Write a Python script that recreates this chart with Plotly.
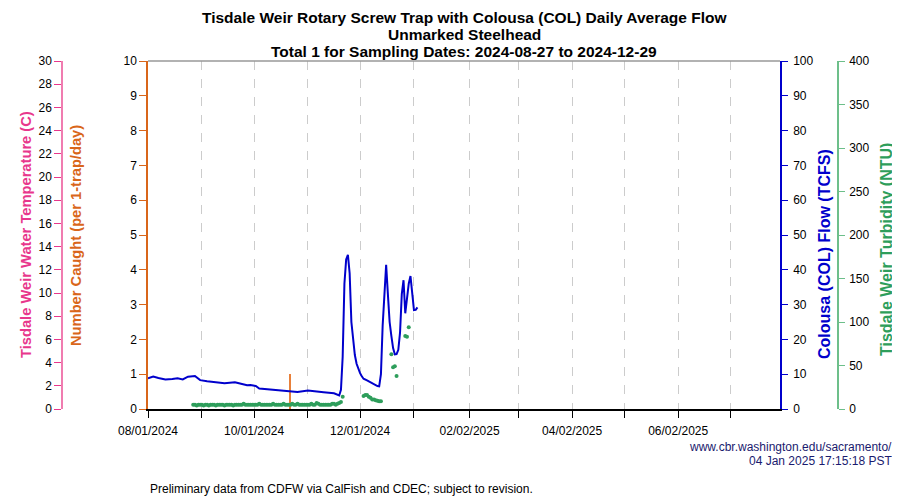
import pandas as pd
import plotly.graph_objects as go

# Colousa (COL) daily average flow, TCFS
flow_dates = ['2024-08-01', '2024-08-04', '2024-08-07', '2024-08-11', '2024-08-15', '2024-08-18',
              '2024-08-21', '2024-08-24', '2024-08-28', '2024-08-31', '2024-09-04', '2024-09-09',
              '2024-09-14', '2024-09-20', '2024-09-24', '2024-09-27', '2024-09-29', '2024-10-02',
              '2024-10-04', '2024-10-08', '2024-10-14', '2024-10-20', '2024-10-26', '2024-11-01',
              '2024-11-04', '2024-11-10', '2024-11-16', '2024-11-19', '2024-11-20', '2024-11-21',
              '2024-11-22', '2024-11-23', '2024-11-24', '2024-11-25', '2024-11-26', '2024-11-27',
              '2024-11-28', '2024-11-29', '2024-11-30', '2024-12-01', '2024-12-02', '2024-12-03',
              '2024-12-05', '2024-12-07', '2024-12-09', '2024-12-11', '2024-12-12', '2024-12-13',
              '2024-12-14', '2024-12-15', '2024-12-16', '2024-12-17', '2024-12-18', '2024-12-19',
              '2024-12-20', '2024-12-21', '2024-12-22', '2024-12-23', '2024-12-24', '2024-12-25',
              '2024-12-26', '2024-12-27', '2024-12-28', '2024-12-29', '2024-12-30', '2024-12-31',
              '2025-01-01', '2025-01-02', '2025-01-03']
flow_vals = [8.8, 9.3, 8.9, 8.5, 8.6, 8.8,
             8.5, 9.3, 9.5, 8.3, 8.0, 7.8,
             7.4, 7.7, 7.2, 6.8, 6.9, 6.6,
             5.9, 5.7, 5.4, 5.2, 4.9, 5.3,
             5.2, 4.8, 4.5, 3.9, 5.5, 15,
             36, 43, 44.3, 39, 25, 20,
             15.5, 13, 11.3, 10.3, 9.4, 8.7,
             8.2, 7.6, 7.1, 6.6, 6.5, 10,
             24, 34, 41.4, 33, 25, 21,
             17.5, 15.7, 15.8, 17, 22, 33,
             37, 27.5, 32, 36, 38.2, 32.5,
             28.4, 28.5, 29.2]

# Tisdale Weir turbidity, NTU
turb_dates = (list(pd.date_range('2024-08-27', '2024-11-21'))
              + list(pd.date_range('2024-12-03', '2024-12-13'))
              + list(pd.to_datetime(['2024-12-19', '2024-12-20', '2024-12-21', '2024-12-22',
                                     '2024-12-27', '2024-12-28', '2024-12-29'])))
turb_vals = [5, 5, 4, 5, 5,
             5, 4, 5, 5, 4, 5, 5, 5, 4, 5, 5, 5, 5, 4, 5, 5, 5, 5, 4, 5, 5, 5, 5, 5, 6, 5, 5, 5, 5, 5,
             5, 5, 5, 6, 5, 5, 5, 5, 5, 5, 5, 6, 5, 5, 5, 5, 5, 6, 5, 5, 5, 5, 6, 5, 5, 6, 5, 5, 5, 5, 5,
             5, 5, 6, 5, 5, 7, 6, 5, 5, 5, 5, 5, 5, 5, 6, 6, 5, 6, 7, 8, 14,
             15, 16, 16, 14, 13, 11, 11, 10, 9.5, 9, 9,
             63, 48, 49, 38, 84, 83, 94]

# number caught (unmarked steelhead)
catch_dates = ['2024-10-22']
catch_vals = [1]

# water temperature (none plotted)
temp_dates = []
temp_vals = []

tick_dates = ['2024-08-01', '2024-09-01', '2024-10-01', '2024-11-01', '2024-12-01', '2025-01-01',
              '2025-02-02', '2025-03-02', '2025-04-02', '2025-05-02', '2025-06-02', '2025-07-02']
tick_text = ['08/01/2024', '', '10/01/2024', '', '12/01/2024', '',
             '02/02/2025', '', '04/02/2025', '', '06/02/2025', '']

PINK = '#E8378C'
ORANGE = '#D9661A'
BLUE = '#0000CC'
GREEN = '#2E9E5B'

W, H = 900, 500
OFF = 8  # page body margin


def px(x):
    return (x - OFF) / W


def py(y):
    return 1 - (y - OFF) / H


xdom = [px(148), px(780)]
ydom = [py(409), py(61)]
FONT = 'Liberation Sans, Arial'
tickfont = dict(family=FONT, size=12, color='black')

fig = go.Figure()
fig.add_trace(go.Scatter(x=temp_dates, y=temp_vals, yaxis='y2', mode='lines',
                         line=dict(color=PINK), showlegend=False))
fig.add_trace(go.Bar(x=catch_dates, y=catch_vals, yaxis='y', width=86400000 * 1.1,
                     marker=dict(color='#E8803A', line=dict(width=0)), showlegend=False))
fig.add_trace(go.Scatter(x=turb_dates, y=turb_vals, yaxis='y4', mode='markers',
                         marker=dict(color=GREEN, size=4), showlegend=False))
fig.add_trace(go.Scatter(x=flow_dates, y=flow_vals, yaxis='y3', mode='lines',
                         line=dict(color=BLUE, width=2), showlegend=False))

yax = dict(domain=ydom, showgrid=False, zeroline=False, showline=True, ticks='outside',
           ticklen=7, tickfont=tickfont, linewidth=1.5, automargin=False)

fig.update_layout(
    template='none',
    width=W, height=H,
    margin=dict(l=0, r=0, t=0, b=0),
    plot_bgcolor='white', paper_bgcolor='white',
    font=dict(family=FONT, size=12),
    bargap=0,
    xaxis=dict(domain=xdom, type='date', range=['2024-08-01', '2025-07-30 14:00'],
               tickvals=tick_dates, ticktext=tick_text, tickfont=tickfont, automargin=False,
               showgrid=True, gridcolor='#cccccc', griddash='dash', gridwidth=1,
               ticks='outside', ticklen=7, tickcolor='black', showline=True,
               ticklabelstandoff=3,
               linecolor='black', linewidth=1.5, zeroline=False, anchor='y'),
    yaxis=dict(yax, range=[0, 10], dtick=1, side='left', anchor='x',
               linecolor=ORANGE, tickcolor=ORANGE),
    yaxis2=dict(yax, range=[0, 30], dtick=2, side='left', overlaying='y', anchor='free',
                position=px(62), linecolor='#F07CB0', tickcolor=PINK),
    yaxis3=dict(yax, range=[0, 100], dtick=10, side='right', overlaying='y', anchor='x',
                ticklen=6, ticklabelstandoff=3, linecolor=BLUE, tickcolor=BLUE),
    yaxis4=dict(yax, range=[0, 400], dtick=50, side='right', overlaying='y', anchor='free',
                position=px(838), ticklen=6, ticklabelstandoff=2,
                linecolor='#6DBF8A', tickcolor='#6DBF8A'),
    shapes=[dict(type='line', xref='paper', yref='paper', x0=xdom[0], x1=xdom[1],
                 y0=ydom[1], y1=ydom[1], line=dict(color='#999999', width=1.5))],
)

title_lines = ['Tisdale Weir Rotary Screw Trap with Colousa (COL) Daily Average Flow',
               'Unmarked Steelhead',
               'Total 1 for Sampling Dates: 2024-08-27 to 2024-12-29']
title_y = [17, 34.5, 52]
for line, ty in zip(title_lines, title_y):
    fig.add_annotation(text='<b>' + line + '</b>', xref='paper', yref='paper',
                       x=px(464), y=py(ty), xanchor='center', yanchor='middle',
                       showarrow=False, borderpad=0,
                       font=dict(family=FONT, size=15.5, color='black'))

axis_titles = [('Tisdale Weir Water Temperature (C)', 26, 235, PINK, 14.7),
               ('Number Caught (per 1-trap/day)', 76, 236, ORANGE, 14.7),
               ('Colousa (COL) Flow (TCFS)', 824, 254, BLUE, 16),
               ('Tisdale Weir Turbidity (NTU)', 886, 250, GREEN, 16)]
for text, tx, ty, col, size in axis_titles:
    fig.add_annotation(text='<b>' + text + '</b>', xref='paper', yref='paper',
                       x=px(tx), y=py(ty), xanchor='center', yanchor='middle',
                       textangle=-90, showarrow=False,
                       font=dict(family=FONT, size=size, color=col))

fig.add_annotation(text='www.cbr.washington.edu/sacramento/', xref='paper', yref='paper',
                   x=px(894), y=py(447), xanchor='right', yanchor='middle', showarrow=False,
                   font=dict(family=FONT, size=12, color='#1a1a6e'))
fig.add_annotation(text='04 Jan 2025 17:15:18 PST', xref='paper', yref='paper',
                   x=px(894), y=py(461), xanchor='right', yanchor='middle', showarrow=False,
                   font=dict(family=FONT, size=12, color='#1a1a6e'))
fig.add_annotation(text='Preliminary data from CDFW via CalFish and CDEC; subject to revision.',
                   xref='paper', yref='paper', x=px(148), y=py(489), xanchor='left',
                   yanchor='middle', showarrow=False,
                   font=dict(family=FONT, size=12, color='black'))

fig.write_html("out.html")
